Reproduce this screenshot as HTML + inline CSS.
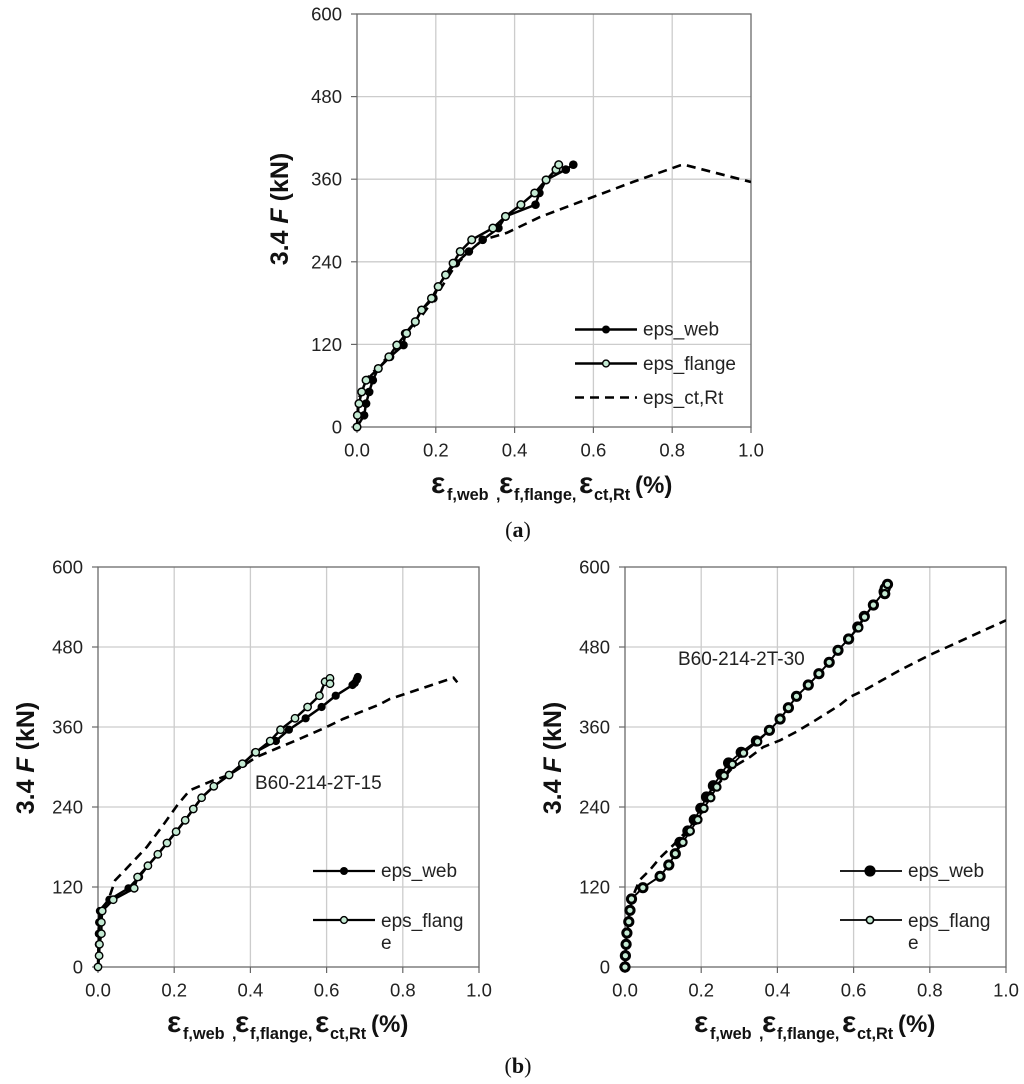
<!DOCTYPE html>
<html lang="en">
<head>
<meta charset="utf-8">
<title>Load versus strain charts</title>
<style>
html,body{margin:0;padding:0;background:#fff}
svg{display:block}
text{font-family:"Liberation Sans",sans-serif;fill:#222}
.tick{font-size:18.5px}
.legend{font-size:19px}
.anno{font-size:19px}
.ylab{font-family:"Liberation Sans",sans-serif;font-size:25px;font-weight:bold;fill:#111}
.xlab{font-weight:bold;fill:#111}
.xlab .e{font-size:30px}
.xlab .s{font-size:16.3px}
.xlab .p{font-size:24px}
.cap{font-family:"Liberation Serif",serif;font-size:22px;fill:#111}
</style>
</head>
<body>
<svg id="figure" xmlns="http://www.w3.org/2000/svg" width="1024" height="1084" viewBox="0 0 1024 1084">
  <rect width="1024" height="1084" fill="#fff"/>
  <g id="panel-a"></g>
  <g id="panel-b1"></g>
  <g id="panel-b2"></g>

  <text class="ylab" transform="translate(288,209) rotate(-90)" text-anchor="middle">3.4 <tspan font-style="italic">F</tspan> (kN)</text>
  <text class="ylab" transform="translate(34,758) rotate(-90)" text-anchor="middle">3.4 <tspan font-style="italic">F</tspan> (kN)</text>
  <text class="ylab" transform="translate(561,758) rotate(-90)" text-anchor="middle">3.4 <tspan font-style="italic">F</tspan> (kN)</text>

  <text class="xlab" y="493"><tspan class="e" x="431" y="493">ε</tspan><tspan class="s" x="447" y="500">f,web</tspan><tspan class="s" x="496" y="500">,</tspan><tspan class="e" x="499" y="493">ε</tspan><tspan class="s" x="514" y="500">f,flange,</tspan><tspan class="e" x="579" y="493">ε</tspan><tspan class="s" x="594" y="500">ct,Rt</tspan><tspan class="p" x="635" y="493">(%)</tspan></text>
  <text class="xlab" y="1032"><tspan class="e" x="167" y="1032">ε</tspan><tspan class="s" x="183" y="1039">f,web</tspan><tspan class="s" x="232" y="1039">,</tspan><tspan class="e" x="235" y="1032">ε</tspan><tspan class="s" x="250" y="1039">f,flange,</tspan><tspan class="e" x="315" y="1032">ε</tspan><tspan class="s" x="330" y="1039">ct,Rt</tspan><tspan class="p" x="371" y="1032">(%)</tspan></text>
  <text class="xlab" y="1032"><tspan class="e" x="694" y="1032">ε</tspan><tspan class="s" x="710" y="1039">f,web</tspan><tspan class="s" x="759" y="1039">,</tspan><tspan class="e" x="762" y="1032">ε</tspan><tspan class="s" x="777" y="1039">f,flange,</tspan><tspan class="e" x="842" y="1032">ε</tspan><tspan class="s" x="857" y="1039">ct,Rt</tspan><tspan class="p" x="898" y="1032">(%)</tspan></text>

  <text class="cap" x="518" y="537" text-anchor="middle">(<tspan font-weight="bold">a</tspan>)</text>
  <text class="cap" x="518" y="1073" text-anchor="middle">(<tspan font-weight="bold">b</tspan>)</text>

  <text class="anno" x="255" y="789">B60-214-2T-15</text>
  <text class="anno" x="678" y="665">B60-214-2T-30</text>

  <g>
    <g>
      <line x1="575" y1="329.5" x2="637" y2="329.5" stroke="#000" stroke-width="2.4"/>
      <circle cx="606" cy="329.5" r="4" fill="#000"/>
      <text class="legend" x="643" y="335.5">eps_web</text>
    </g>
    <g>
      <line x1="575" y1="363.5" x2="637" y2="363.5" stroke="#000" stroke-width="2.4"/>
      <circle cx="606" cy="363.5" r="3.4" fill="#c4ead3" stroke="#000" stroke-width="1.4"/>
      <text class="legend" x="643" y="370">eps_flange</text>
    </g>
    <g>
      <line x1="575" y1="397.5" x2="637" y2="397.5" stroke="#000" stroke-width="2.6" stroke-dasharray="9 6"/>
      <text class="legend" x="643" y="404">eps_ct,Rt</text>
    </g>
  </g>
  <g>
    <g>
      <line x1="313" y1="871" x2="375" y2="871" stroke="#000" stroke-width="2.2"/>
      <circle cx="344" cy="871" r="4" fill="#000"/>
      <text class="legend" x="381" y="877">eps_web</text>
    </g>
    <g>
      <line x1="313" y1="920" x2="375" y2="920" stroke="#000" stroke-width="2.2"/>
      <circle cx="344" cy="920" r="3.4" fill="#c4ead3" stroke="#000" stroke-width="1.4"/>
      <text class="legend" x="381" y="927">eps_flang</text>
      <text class="legend" x="381" y="949">e</text>
    </g>
  </g>
  <g>
    <g>
      <line x1="840" y1="871" x2="902" y2="871" stroke="#000" stroke-width="1.8"/>
      <circle cx="870" cy="871" r="5.6" fill="#000"/>
      <text class="legend" x="908" y="877">eps_web</text>
    </g>
    <g>
      <line x1="840" y1="920" x2="902" y2="920" stroke="#000" stroke-width="1.8"/>
      <circle cx="870" cy="920" r="3.6" fill="#c4ead3" stroke="#000" stroke-width="1.6"/>
      <text class="legend" x="908" y="927">eps_flang</text>
      <text class="legend" x="908" y="949">e</text>
    </g>
  </g>
</svg>
<script>
var xTickLabels = ['0.0', '0.2', '0.4', '0.6', '0.8', '1.0'];
var xTickValues = [0, 0.2, 0.4, 0.6, 0.8, 1.0];
var yTickValues = [0, 120, 240, 360, 480, 600];

var aWebStrain = [0, 0.018, 0.023, 0.031, 0.040, 0.054, 0.084, 0.118, 0.122, 0.148, 0.164, 0.194, 0.206, 0.225, 0.251, 0.284, 0.319, 0.359, 0.377, 0.453, 0.463, 0.480, 0.530, 0.549];
var aWebLoad = [0, 17, 34, 51, 68, 85, 102, 119, 136, 153, 170, 187, 204, 221, 238, 255, 272, 289, 306, 323, 340, 359, 374, 381];
var aFlangeStrain = [0, 0.001, 0.005, 0.012, 0.023, 0.054, 0.081, 0.101, 0.126, 0.148, 0.164, 0.189, 0.206, 0.225, 0.244, 0.262, 0.291, 0.345, 0.377, 0.416, 0.451, 0.480, 0.505, 0.512];
var aFlangeLoad = [0, 17, 34, 51, 68, 85, 102, 119, 136, 153, 170, 187, 204, 221, 238, 255, 272, 289, 306, 323, 340, 359, 374, 381];
var aCtStrain = [0, 0.004, 0.02, 0.05, 0.10, 0.15, 0.20, 0.25, 0.30, 0.32, 0.38, 0.464, 0.617, 0.70, 0.82, 0.83, 1.0];
var aCtLoad = [0, 40, 68, 85, 115, 150, 190, 235, 263, 272, 282, 305, 338, 356, 380, 381, 356];

var b1WebStrain = [0, 0.003, 0.002, 0.002, 0.003, 0.005, 0.030, 0.080, 0.108, 0.131, 0.157, 0.181, 0.205, 0.229, 0.250, 0.272, 0.304, 0.344, 0.381, 0.412, 0.467, 0.501, 0.545, 0.587, 0.624, 0.668, 0.674, 0.679, 0.682];
var b1WebLoad = [0, 17, 34, 50, 67, 84, 101, 118, 135, 152, 169, 186, 203, 220, 237, 254, 271, 288, 305, 322, 339, 356, 373, 390, 407, 423, 426, 431, 435];
var b1FlangeStrain = [0, 0.003, 0.004, 0.009, 0.009, 0.011, 0.040, 0.095, 0.104, 0.131, 0.157, 0.181, 0.205, 0.229, 0.250, 0.272, 0.304, 0.344, 0.379, 0.414, 0.452, 0.479, 0.517, 0.550, 0.581, 0.596, 0.609, 0.609];
var b1FlangeLoad = [0, 17, 34, 50, 67, 84, 101, 118, 135, 152, 169, 186, 203, 220, 237, 254, 271, 288, 305, 322, 339, 356, 373, 390, 407, 428, 433, 425];
var b1CtStrain = [0, 0.002, 0.005, 0.027, 0.045, 0.067, 0.128, 0.171, 0.211, 0.241, 0.303, 0.344, 0.416, 0.478, 0.521, 0.600, 0.643, 0.740, 0.766, 0.845, 0.933, 0.943];
var b1CtLoad = [0, 60, 85, 100, 130, 143, 180, 213, 245, 265, 280, 288, 315, 330, 340, 360, 372, 394, 402, 417, 434, 427];

var b2WebStrain = [0, 0.001, 0.003, 0.005, 0.010, 0.013, 0.017, 0.047, 0.092, 0.115, 0.132, 0.144, 0.165, 0.182, 0.199, 0.214, 0.232, 0.252, 0.272, 0.305, 0.345, 0.379, 0.407, 0.429, 0.450, 0.481, 0.509, 0.536, 0.559, 0.587, 0.611, 0.628, 0.652, 0.680, 0.683, 0.689, 0.682];
var b2WebLoad = [0, 17, 34, 51, 68, 85, 102, 119, 136, 153, 170, 187, 204, 221, 238, 255, 272, 289, 306, 322, 339, 355, 372, 389, 406, 423, 440, 457, 475, 492, 510, 526, 543, 563, 568, 574, 560];
var b2FlangeStrain = [0, 0.001, 0.003, 0.005, 0.010, 0.013, 0.017, 0.047, 0.092, 0.115, 0.132, 0.152, 0.171, 0.191, 0.207, 0.225, 0.241, 0.260, 0.282, 0.311, 0.348, 0.379, 0.407, 0.429, 0.450, 0.481, 0.509, 0.536, 0.559, 0.587, 0.613, 0.629, 0.652, 0.680, 0.683, 0.689, 0.682];
var b2FlangeLoad = [0, 17, 34, 51, 68, 85, 102, 119, 136, 153, 170, 187, 204, 221, 238, 254, 270, 287, 304, 321, 338, 355, 372, 389, 406, 423, 440, 457, 475, 492, 509, 525, 543, 563, 568, 574, 560];
var b2CtStrain = [0, 0.005, 0.020, 0.038, 0.066, 0.092, 0.127, 0.180, 0.230, 0.284, 0.328, 0.363, 0.407, 0.450, 0.494, 0.564, 0.590, 0.634, 0.721, 0.800, 1.0];
var b2CtLoad = [0, 60, 105, 130, 146, 164, 183, 215, 265, 300, 315, 330, 340, 353, 368, 393, 405, 417, 445, 468, 520];

var NS = 'http://www.w3.org/2000/svg';

function add(parent, tag, attrs) {
  var el = document.createElementNS(NS, tag);
  for (var k in attrs) { el.setAttribute(k, attrs[k]); }
  parent.appendChild(el);
  return el;
}

function scale(d0, d1, r0, r1) {
  return function (v) { return r0 + (v - d0) / (d1 - d0) * (r1 - r0); };
}

function clippedLine(g, xs, ys, X, Y, attrs, name, clipId) {
  var pts = [];
  for (var i = 0; i < xs.length; i++) { pts.push(X(xs[i]).toFixed(1) + ',' + Y(ys[i]).toFixed(1)); }
  attrs.points = pts.join(' ');
  attrs.fill = 'none';
  attrs['clip-path'] = 'url(#' + clipId + ')';
  var el = add(g, 'polyline', attrs);
  
  
}

function markers(g, xs, ys, X, Y, attrs, name) {
  for (var i = 0; i < xs.length; i++) {
    var c = add(g, 'circle', attrs);
    c.setAttribute('cx', X(xs[i]).toFixed(1));
    c.setAttribute('cy', Y(ys[i]).toFixed(1));
    
    
  }
}

function drawChart(o) {
  var g = document.getElementById(o.id);
  var X = scale(0, 1, o.left, o.right);
  var Y = scale(0, 600, o.bottom, o.top);
  var clipId = o.id + '-clip';
  var clip = add(add(g, 'defs', {}), 'clipPath', { id: clipId });
  add(clip, 'rect', { x: o.left - 8, y: o.top - 8, width: o.right - o.left + 8, height: o.bottom - o.top + 16 });

  yTickValues.forEach(function (v) {
    var y = Y(v);
    if (v > 0 && v < 600) {
      var grid = add(g, 'line', { x1: o.left, x2: o.right, y1: y, y2: y, stroke: '#cccccc', 'stroke-width': 1.3 });
      
      
    }
    var tick = add(g, 'line', { x1: o.left - 6, x2: o.left, y1: y, y2: y, stroke: '#666', 'stroke-width': 1.2 });
    
    
    var lab = add(g, 'text', { x: o.left - 15, y: y + 6.5, 'text-anchor': 'end', 'class': 'tick' });
    lab.textContent = String(v);
    
    
  });

  xTickValues.forEach(function (v, i) {
    var x = X(v);
    if (v > 0 && v < 1) {
      var grid = add(g, 'line', { x1: x, x2: x, y1: o.top, y2: o.bottom, stroke: '#cccccc', 'stroke-width': 1.3 });
      
      
    }
    var tick = add(g, 'line', { x1: x, x2: x, y1: o.bottom, y2: o.bottom + 6, stroke: '#666', 'stroke-width': 1.2 });
    
    
    var lab = add(g, 'text', { x: x, y: o.bottom + 29.5, 'text-anchor': 'middle', 'class': 'tick' });
    lab.textContent = xTickLabels[i];
    
    
  });

  var frame = add(g, 'rect', { x: o.left, y: o.top, width: o.right - o.left, height: o.bottom - o.top, fill: 'none', stroke: '#6a6a6a', 'stroke-width': 1.3 });
  
  

  clippedLine(g, o.ctX, o.ctY, X, Y, { stroke: '#000', 'stroke-width': 2.6, 'stroke-dasharray': '9 6' }, 'series-eps-ct-rt', clipId);
  clippedLine(g, o.webX, o.webY, X, Y, { stroke: '#000', 'stroke-width': o.lineW }, 'series-eps-web', clipId);
  markers(g, o.webX, o.webY, X, Y, { r: o.webR, fill: '#000' }, 'point-eps-web');
  clippedLine(g, o.flX, o.flY, X, Y, { stroke: '#000', 'stroke-width': o.lineW }, 'series-eps-flange', clipId);
  markers(g, o.flX, o.flY, X, Y, { r: o.flR, fill: '#c4ead3', stroke: '#000', 'stroke-width': o.flS }, 'point-eps-flange');
}

drawChart({ id: 'panel-a', left: 357, right: 751, top: 14, bottom: 427, lineW: 2.5, webR: 4.3, flR: 3.8, flS: 1.5,
  webX: aWebStrain, webY: aWebLoad, flX: aFlangeStrain, flY: aFlangeLoad, ctX: aCtStrain, ctY: aCtLoad });
drawChart({ id: 'panel-b1', left: 98, right: 479, top: 567, bottom: 967, lineW: 2.5, webR: 4.1, flR: 3.7, flS: 1.4,
  webX: b1WebStrain, webY: b1WebLoad, flX: b1FlangeStrain, flY: b1FlangeLoad, ctX: b1CtStrain, ctY: b1CtLoad });
drawChart({ id: 'panel-b2', left: 625, right: 1006, top: 567, bottom: 967, lineW: 1.8, webR: 5.6, flR: 3.7, flS: 2.2,
  webX: b2WebStrain, webY: b2WebLoad, flX: b2FlangeStrain, flY: b2FlangeLoad, ctX: b2CtStrain, ctY: b2CtLoad });
</script>
</body>
</html>
